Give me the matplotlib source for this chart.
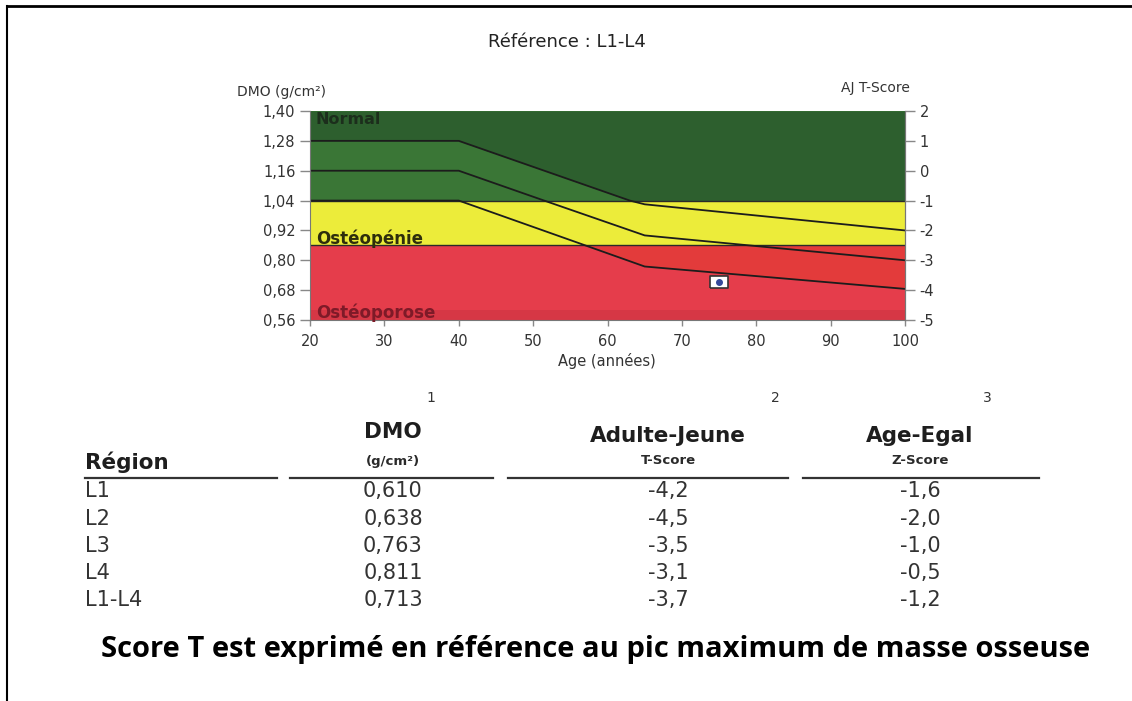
import numpy as np
import matplotlib
matplotlib.use("Agg")
import matplotlib.pyplot as plt
from matplotlib.lines import Line2D

# donnees du graphique
x_ticks = [20, 30, 40, 50, 60, 70, 80, 90, 100]
y_ticks = [0.56, 0.68, 0.80, 0.92, 1.04, 1.16, 1.28, 1.40]
t_ticks = [-5, -4, -3, -2, -1, 0, 1, 2]

# seuils des zones (DMO)
seuil_normal = 1.04      # T = -1
seuil_osteopenie = 0.86  # T = -2.5

# courbes de reference (age, DMO)
haut_age = [20, 40, 63, 65, 100]
haut_dmo = [1.28, 1.28, 1.04, 1.025, 0.92]
milieu_age = [20, 40, 51, 65, 100]
milieu_dmo = [1.16, 1.16, 1.045, 0.90, 0.80]
bas_age = [20, 40, 57, 65, 100]
bas_dmo = [1.04, 1.04, 0.86, 0.775, 0.685]

# patient
patient_age = 75

# tableau
regions = ["L1", "L2", "L3", "L4", "L1-L4"]
dmo = [0.610, 0.638, 0.763, 0.811, 0.713]
t_score = [-4.2, -4.5, -3.5, -3.1, -3.7]
z_score = [-1.6, -2.0, -1.0, -0.5, -1.2]

W, H = 1132, 701


def fx(px):
    return px / W


def fy(py):
    return 1 - py / H


def virgule(v, n):
    return f"{v:.{n}f}".replace(".", ",")


def main():
    plt.rcParams['font.family'] = ['DejaVu Sans']
    fig = plt.figure(figsize=(W / 100, H / 100), dpi=100)

    ax = fig.add_axes([fx(310), fy(320), fx(905) - fx(310), fy(111) - fy(320)])
    ymin, ymax = y_ticks[0], y_ticks[-1]
    ax.set_xlim(20, 100)
    ax.set_ylim(ymin, ymax)

    # zones de couleur
    ax.axhspan(seuil_normal, ymax, color='#3a7636', lw=0)
    ax.axhspan(seuil_osteopenie, seuil_normal, color='#ecec3a', lw=0)
    ax.axhspan(ymin, seuil_osteopenie, color='#e33b3b', lw=0)

    xs = np.linspace(20, 100, 801)
    h = np.interp(xs, haut_age, haut_dmo)
    b = np.interp(xs, bas_age, bas_dmo)
    ax.fill_between(xs, np.maximum(h, seuil_normal), ymax, color='#2d5f2e', lw=0)
    # sous la courbe basse, teinte un peu plus rose vers la droite
    ax.fill_between(xs, ymin, np.minimum(b, seuil_osteopenie), color='#e8405a',
                    alpha=0.55, lw=0)
    ax.axhspan(ymin, 0.60, color='#b52a38', alpha=0.3, lw=0)

    ax.axhline(seuil_normal, color='#2a2a2a', lw=1)
    ax.axhline(seuil_osteopenie, color='#2a2a2a', lw=1)

    for a, d in [(haut_age, haut_dmo), (milieu_age, milieu_dmo), (bas_age, bas_dmo)]:
        ax.plot(a, d, color='#1c1c1c', lw=1.3)

    # marqueur du patient
    rect = [(-1.6, -1), (1.6, -1), (1.6, 1), (-1.6, 1), (-1.6, -1)]
    ax.plot([patient_age], [dmo[-1]], marker=rect, ms=13, mfc='white',
            mec='#333333', mew=1.2, ls='none', zorder=5)
    ax.plot([patient_age], [dmo[-1]], marker='o', ms=4, color='#34489a',
            ls='none', zorder=6)

    ax.text(20.8, 1.365, "Normal", fontsize=11.5, fontweight='bold',
            color='#1c2e1c', va='center')
    ax.text(20.8, 0.886, "Ostéopénie", fontsize=12, fontweight='bold',
            color='#2e2e0c', va='center')
    ax.text(20.8, 0.59, "Ostéoporose", fontsize=12, fontweight='bold',
            color='#7e1a28', va='center')

    ax.set_xticks(x_ticks)
    ax.set_xticklabels([str(v) for v in x_ticks])
    ax.set_yticks(y_ticks)
    ax.set_yticklabels([virgule(v, 2) for v in y_ticks])
    ax.tick_params(axis='both', direction='out', color='#888888', labelcolor='#333333',
                   labelsize=10.5, length=7, width=1)
    ax.tick_params(axis='x', length=4, pad=6)
    for s in ax.spines.values():
        s.set_color('#777777')
    ax.spines['top'].set_visible(False)

    ax2 = ax.twinx()
    ax2.set_ylim(t_ticks[0], t_ticks[-1])
    ax2.set_yticks(t_ticks)
    ax2.set_yticklabels([str(v) for v in t_ticks])
    ax2.tick_params(direction='out', color='#888888', labelcolor='#333333',
                    labelsize=10.5, length=7, width=1)
    for s in ax2.spines.values():
        s.set_visible(False)
    ax2.spines['right'].set_visible(True)
    ax2.spines['right'].set_color('#777777')

    # textes autour du graphique
    fig.text(fx(567), fy(42), "Référence : L1-L4", fontsize=13, color='#222222',
             ha='center', va='center')
    fig.text(fx(237), fy(92), "DMO (g/cm²)", fontsize=10, color='#333333',
             ha='left', va='center')
    fig.text(fx(910), fy(88), "AJ T-Score", fontsize=10, color='#333333',
             ha='right', va='center')
    fig.text(fx(607), fy(361), "Age (années)", fontsize=10.5, color='#333333',
             ha='center', va='center')

    # tableau
    col_dmo, col_t, col_z = 393, 668, 920
    hdr = dict(fontsize=15.5, fontweight='bold', color='#1e1e1e', va='center')
    sub = dict(fontsize=9.5, fontweight='bold', color='#2a2a2a', va='center', ha='center')
    fig.text(fx(85), fy(462), "Région", ha='left', **hdr)
    fig.text(fx(col_dmo), fy(432), "DMO", ha='center', **hdr)
    fig.text(fx(col_t), fy(436), "Adulte-Jeune", ha='center', **hdr)
    fig.text(fx(col_z), fy(436), "Age-Egal", ha='center', **hdr)
    fig.text(fx(col_dmo), fy(462), "(g/cm²)", **sub)
    fig.text(fx(col_t), fy(460), "T-Score", **sub)
    fig.text(fx(col_z), fy(460), "Z-Score", **sub)
    for px, lab in [(431, "1"), (775, "2"), (987, "3")]:
        fig.text(fx(px), fy(398), lab, fontsize=10, color='#333333',
                 ha='center', va='center')

    for x0, x1 in [(85, 277), (290, 493), (508, 788), (803, 1039)]:
        fig.add_artist(Line2D([fx(x0), fx(x1)], [fy(478), fy(478)],
                              color='#333333', lw=1.6))

    row_y = [491, 519, 546, 573, 600]
    cell = dict(fontsize=15, color='#333333', va='center')
    for i, yy in enumerate(row_y):
        fig.text(fx(85), fy(yy), regions[i], ha='left', **cell)
        fig.text(fx(col_dmo), fy(yy), virgule(dmo[i], 3), ha='center', **cell)
        fig.text(fx(col_t), fy(yy), virgule(t_score[i], 1), ha='center', **cell)
        fig.text(fx(col_z), fy(yy), virgule(z_score[i], 1), ha='center', **cell)

    fig.text(fx(596), fy(650), "Score T est exprimé en référence au pic maximum de masse osseuse",
             fontsize=21, fontweight='bold', family=['Open Sans', 'DejaVu Sans'],
             color='black', ha='center', va='center')

    # cadre (haut et gauche)
    fig.add_artist(Line2D([fx(7), 1], [fy(6), fy(6)], color='black', lw=2))
    fig.add_artist(Line2D([fx(7), fx(7)], [fy(6), 0], color='black', lw=1.5))

    fig.savefig("out.png", dpi=100)


if __name__ == "__main__":
    main()
